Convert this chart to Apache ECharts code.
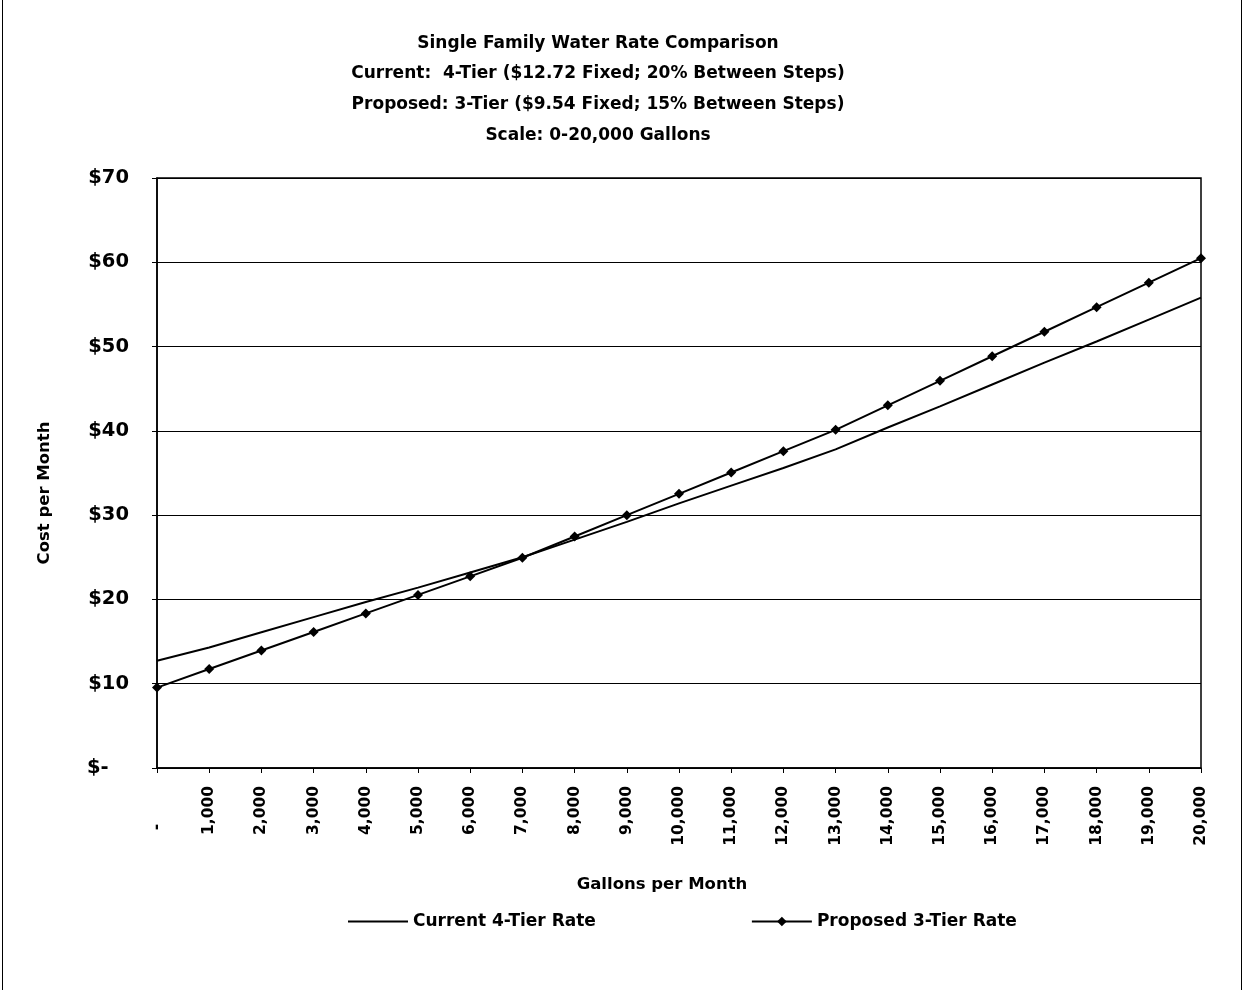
<!DOCTYPE html>
<html>
<head>
<meta charset="utf-8">
<script src="https://cdn.jsdelivr.net/npm/echarts@6/dist/echarts.min.js"></script>
<style>
html,body{margin:0;padding:0;background:#fff;}
#chart{width:1244px;height:990px;}
</style>
</head>
<body>
<div id="chart"></div>
<script>
const categories = ['-', '1,000', '2,000', '3,000', '4,000', '5,000', '6,000', '7,000', '8,000', '9,000', '10,000',
  '11,000', '12,000', '13,000', '14,000', '15,000', '16,000', '17,000', '18,000', '19,000', '20,000'];
const currentRate = [12.72, 14.3, 16.1, 17.9, 19.7, 21.4, 23.2, 25.0, 27.1, 29.2, 31.4,
  33.5, 35.6, 37.8, 40.4, 42.9, 45.5, 48.1, 50.6, 53.2, 55.8];
const proposedRate = [9.54, 11.74, 13.94, 16.14, 18.34, 20.54, 22.74, 24.94, 27.47, 30.0, 32.53,
  35.06, 37.59, 40.12, 43.03, 45.94, 48.85, 51.76, 54.67, 57.58, 60.49];
const titleLines = [
  'Single Family Water Rate Comparison',
  'Current:  4-Tier ($12.72 Fixed; 20% Between Steps)',
  'Proposed: 3-Tier ($9.54 Fixed; 15% Between Steps)',
  'Scale: 0-20,000 Gallons'
];
const seriesNames = ['Current 4-Tier Rate', 'Proposed 3-Tier Rate'];

const font = '"DejaVu Sans", Arial, sans-serif';
const chart = echarts.init(document.getElementById('chart'));
chart.setOption({
  backgroundColor: '#fff',
  animation: false,
  title: {
    text: titleLines.join('\n'),
    left: 593,
    textAlign: 'center',
    top: 23,
    textStyle: {fontFamily: font, fontWeight: 'bold', fontSize: 17, lineHeight: 30.7, color: '#000'}
  },
  graphic: [
    {type: 'line', shape: {x1: 2.5, y1: 0, x2: 2.5, y2: 990}, style: {stroke: '#000', lineWidth: 1}},
    {type: 'line', shape: {x1: 1241.5, y1: 0, x2: 1241.5, y2: 990}, style: {stroke: '#000', lineWidth: 1}}
  ],
  grid: {left: 157, right: 43, top: 178, bottom: 222, show: true, borderColor: '#000', borderWidth: 1.5},
  legend: {
    left: 343, top: 908, itemWidth: 60, itemHeight: 12, itemGap: 155,
    textStyle: {fontFamily: font, fontWeight: 'bold', fontSize: 17, color: '#000'},
    data: [
      {name: seriesNames[0], icon: 'path://M0,0 L60,0 L60,2 L0,2 Z'},
      {name: seriesNames[1]}
    ]
  },
  xAxis: {
    type: 'category', data: categories, boundaryGap: false,
    name: 'Gallons per Month', nameLocation: 'middle', nameGap: 108,
    nameTextStyle: {fontFamily: font, fontWeight: 'bold', fontSize: 16.5, color: '#000', padding: [0, 34, 0, 0]},
    axisLine: {lineStyle: {color: '#000', width: 1.5}},
    axisTick: {show: true, alignWithLabel: true, length: 5, lineStyle: {color: '#000'}},
    axisLabel: {
      rotate: 90, margin: 18, fontFamily: font, fontWeight: 'bold', fontSize: 15.5, color: '#000', interval: 0,
      formatter: v => v === '-' ? '-       ' : v
    }
  },
  yAxis: {
    type: 'value', min: 0, max: 70, interval: 10,
    name: 'Cost per Month', nameLocation: 'middle', nameGap: 104,
    nameTextStyle: {fontFamily: font, fontWeight: 'bold', fontSize: 16.5, color: '#000', padding: [0, 40, 0, 0]},
    axisLine: {show: true, lineStyle: {color: '#000', width: 1.5}},
    axisTick: {show: true, length: 5, lineStyle: {color: '#000'}},
    splitLine: {show: true, lineStyle: {color: '#000', width: 1}},
    axisLabel: {
      margin: 28, fontFamily: font, fontWeight: 'bold', fontSize: 19.5, color: '#000',
      formatter: v => v === 0 ? '$-   ' : '$' + v
    }
  },
  series: [
    {
      name: seriesNames[0], type: 'line', data: currentRate, symbol: 'none',
      lineStyle: {color: '#000', width: 2}, itemStyle: {color: '#000'}
    },
    {
      name: seriesNames[1], type: 'line', data: proposedRate, symbol: 'diamond', symbolSize: 10,
      lineStyle: {color: '#000', width: 2}, itemStyle: {color: '#000'}
    }
  ]
});
</script>
</body>
</html>
